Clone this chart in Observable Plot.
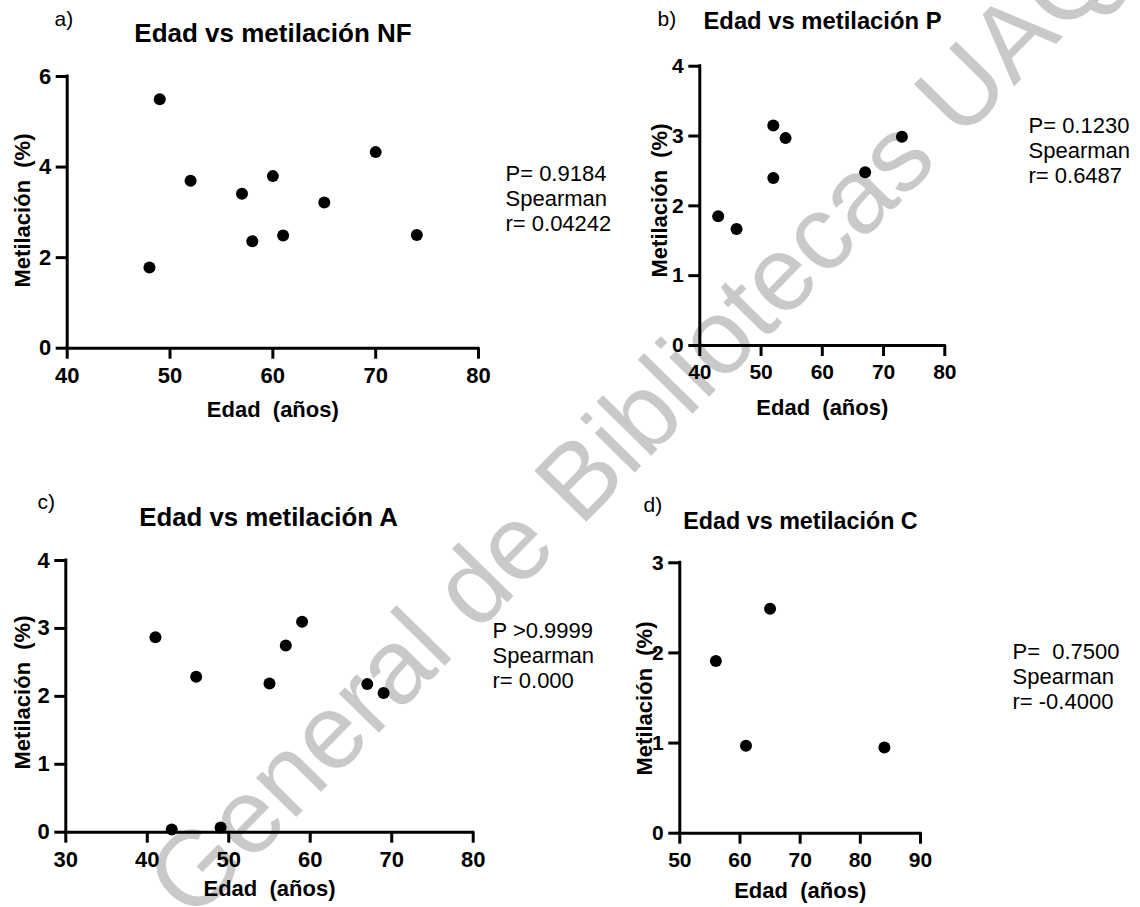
<!DOCTYPE html>
<html><head><meta charset="utf-8">
<script src="https://cdn.jsdelivr.net/npm/d3@7"></script>
<script src="https://cdn.jsdelivr.net/npm/@observablehq/plot@0.6"></script>
<style>
html,body{margin:0;padding:0;background:#fff;}
#root{position:relative;width:1140px;height:907px;overflow:hidden;}
#root svg{position:absolute;left:0;top:0;}
</style></head><body><div id="root"></div>
<script>
// ---- data ----
const edadNF = [48, 49, 52, 57, 58, 60, 61, 65, 70, 74];
const metNF  = [1.78, 5.50, 3.70, 3.41, 2.36, 3.80, 2.49, 3.22, 4.33, 2.50];
const edadP  = [43, 46, 52, 52, 54, 67, 73];
const metP   = [1.85, 1.67, 3.15, 2.40, 2.97, 2.48, 2.99];
const edadA  = [41, 43, 46, 49, 55, 57, 59, 67, 69];
const metA   = [2.87, 0.04, 2.29, 0.07, 2.19, 2.75, 3.10, 2.18, 2.05];
const edadC  = [56, 61, 65, 84];
const metC   = [1.91, 0.97, 2.49, 0.95];

const xTicksNF = [40, 50, 60, 70, 80];
const yTicksNF = [0, 2, 4, 6];
const xTicksP  = [40, 50, 60, 70, 80];
const yTicksP  = [0, 1, 2, 3, 4];
const xTicksA  = [30, 40, 50, 60, 70, 80];
const yTicksA  = [0, 1, 2, 3, 4];
const xTicksC  = [50, 60, 70, 80, 90];
const yTicksC  = [0, 1, 2, 3];

const titles = ["Edad vs metilación NF", "Edad vs metilación P", "Edad vs metilación A", "Edad vs metilación C"];
const tags = ["a)", "b)", "c)", "d)"];
const statsNF = "P= 0.9184\nSpearman\nr= 0.04242";
const statsP  = "P= 0.1230\nSpearman\nr= 0.6487";
const statsA  = "P >0.9999\nSpearman\nr= 0.000";
const statsC  = "P=  0.7500\nSpearman\nr= -0.4000";
const xLabel = "Edad  (años)";
const yLabel = "Metilación  (%)";
const watermarkText = "General de Bibliotecas UAQ";

// ---- layout ----
const W = 1140, H = 907;
const FONT = "Liberation Sans, Arial, Helvetica, sans-serif";
const panels = [
  {x: edadNF, y: metNF, xd: [40, 80], yd: [0, 6], xt: xTicksNF, yt: yTicksNF, frame: [66.7, 478, 76, 347.7],
   title: titles[0], titleAt: [272.5, 41], tsz: 26, tag: tags[0], tagAt: [54, 25], stats: statsNF, statsAt: [505, 163],
   xlabAt: [272.3, 416], ylabAt: [22, 210], tf: 22},
  {x: edadP, y: metP, xd: [40, 80], yd: [0, 4], xt: xTicksP, yt: yTicksP, frame: [699.3, 944.3, 65.7, 345],
   title: titles[1], titleAt: [822, 29], tsz: 23.8, tag: tags[1], tagAt: [657, 26], stats: statsP, statsAt: [1028, 115],
   xlabAt: [821.8, 414], ylabAt: [659, 200], tf: 21},
  {x: edadA, y: metA, xd: [30, 80], yd: [0, 4], xt: xTicksA, yt: yTicksA, frame: [65.3, 472.7, 560, 831.7],
   title: titles[2], titleAt: [268, 525], tsz: 25.8, tag: tags[2], tagAt: [37, 508], stats: statsA, statsAt: [492, 620],
   xlabAt: [269, 895], ylabAt: [22, 692], tf: 22},
  {x: edadC, y: metC, xd: [50, 90], yd: [0, 3], xt: xTicksC, yt: yTicksC, frame: [679.3, 920, 562.3, 832.7],
   title: titles[3], titleAt: [800, 528], tsz: 23.3, tag: tags[3], tagAt: [643, 511], stats: statsC, statsAt: [1012, 641],
   xlabAt: [799.7, 897], ylabAt: [644, 698], tf: 21}
];

const root = document.getElementById("root");

// watermark (behind the charts)
const wm = d3.create("svg").attr("width", W).attr("height", H);
wm.append("text").attr("transform", "translate(192,923) rotate(-45.5)")
  .attr("font-family", FONT).attr("font-size", 106).attr("fill", "#c9c9c9")
  .text(watermarkText);
root.appendChild(wm.node());

for (const p of panels) {
  const [x0, x1, y0, y1] = p.frame;
  const rel = ([ax, ay]) => ({frameAnchor: "top-left", dx: ax - x0, dy: ay - y0});
  const pts = p.x.map((v, i) => ({edad: v, met: p.y[i]}));
  const chart = Plot.plot({
    width: W, height: H,
    marginLeft: x0, marginRight: W - x1, marginTop: y0, marginBottom: H - y1,
    x: {domain: p.xd},
    y: {domain: p.yd},
    style: {fontFamily: FONT, background: "transparent", overflow: "visible", color: "black"},
    marks: [
      Plot.axisX(p.xt, {tickSize: 11, tickPadding: 8, fontSize: p.tf, fontWeight: "bold", strokeWidth: 3, label: null, tickFormat: d => String(d)}),
      Plot.axisY(p.yt, {tickSize: 11, tickPadding: 5, fontSize: p.tf, fontWeight: "bold", strokeWidth: 3, label: null, tickFormat: d => String(d)}),
      Plot.ruleY([p.yd[0]], {strokeWidth: 3, strokeLinecap: "square"}),
      Plot.ruleX([p.xd[0]], {strokeWidth: 3, strokeLinecap: "square"}),
      Plot.dot(pts, {x: "edad", y: "met", r: 6, fill: "black", stroke: null}),
      Plot.text([p.title], {...rel(p.titleAt), text: d => d, textAnchor: "middle", lineAnchor: "bottom", fontSize: p.tsz, fontWeight: "bold"}),
      Plot.text([p.tag], {...rel(p.tagAt), text: d => d, textAnchor: "start", lineAnchor: "bottom", fontSize: 21}),
      Plot.text([p.stats], {...rel(p.statsAt), text: d => d, textAnchor: "start", lineAnchor: "top", fontSize: 22, lineHeight: 1.14}),
      Plot.text([xLabel], {...rel(p.xlabAt), text: d => d, textAnchor: "middle", lineAnchor: "bottom", fontSize: 22, fontWeight: "bold"}),
      Plot.text([yLabel], {...rel(p.ylabAt), text: d => d, textAnchor: "middle", lineAnchor: "middle", rotate: -90, fontSize: 22, fontWeight: "bold"})
    ]
  });
  root.appendChild(chart);
}
</script>
</body></html>
